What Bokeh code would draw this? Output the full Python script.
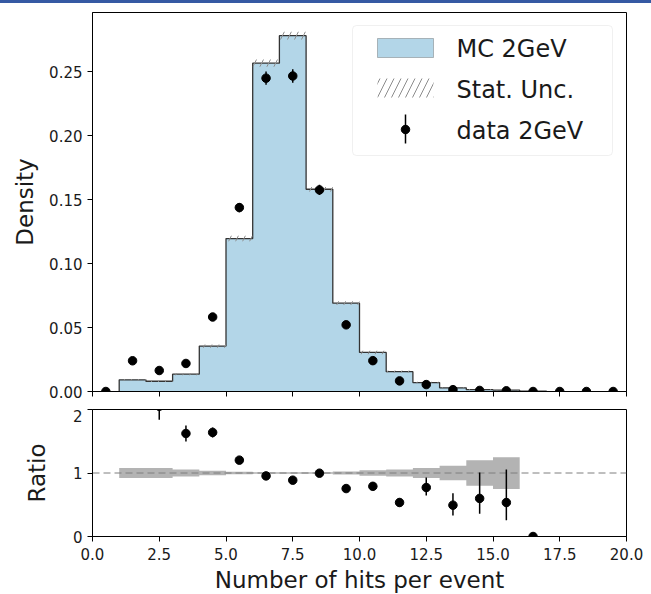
import numpy as np
from bokeh.plotting import figure
from bokeh.layouts import column
from bokeh.models import (Range1d, FixedTicker, PrintfTickFormatter,
                          CustomJSTickFormatter, BoxAnnotation, Label, Div)
from bokeh.embed import file_html
from bokeh.resources import INLINE

# ---- data -------------------------------------------------------------
# simulated (MC) histogram, unit-width bins with edges 1..17 (density)
mc_edges = list(range(1, 18))
mc_density = [0.0091, 0.0080, 0.0135, 0.0355, 0.1195, 0.2565, 0.2780, 0.1580,
              0.0690, 0.0305, 0.0155, 0.0070, 0.0029, 0.0014, 0.0010, 0.0003]
# relative statistical uncertainty of each MC bin
mc_rel_unc = [0.077, 0.077, 0.055, 0.037, 0.018, 0.011, 0.011, 0.011,
              0.022, 0.045, 0.055, 0.080, 0.115, 0.200, 0.250, 0.0]

# measured data, bin centres 0.5..19.5
data_centers = [0.5, 1.5, 2.5, 3.5, 4.5, 5.5, 6.5, 7.5, 8.5, 9.5,
                10.5, 11.5, 12.5, 13.5, 14.5, 15.5, 16.5, 17.5, 18.5, 19.5]
data_density = [0.0, 0.0240, 0.0164, 0.0219, 0.0582, 0.1437, 0.2448, 0.2465,
                0.1575, 0.0521, 0.0241, 0.0083, 0.0054, 0.00143, 0.00084,
                0.000535, 0.0, 0.0, 0.0, 0.0]
data_err_lo = [0.0, 0.0017, 0.0017, 0.0017, 0.0028, 0.0036, 0.0052, 0.0052,
               0.0040, 0.0026, 0.0017, 0.0010, 0.00088, 0.00047, 0.00034,
               0.00028, 0.0, 0.0, 0.0, 0.0]
data_err_hi = [0.0, 0.0017, 0.0014, 0.0017, 0.0028, 0.0036, 0.0052, 0.0052,
               0.0040, 0.0026, 0.0017, 0.0010, 0.0011, 0.00055, 0.00057,
               0.00052, 0.0, 0.0, 0.0, 0.0]

x_ticks = [0.0, 2.5, 5.0, 7.5, 10.0, 12.5, 15.0, 17.5, 20.0]
density_ticks = [0.0, 0.05, 0.10, 0.15, 0.20, 0.25]
ratio_ticks = [0, 1, 2]

legend_labels = ["MC 2GeV", "Stat. Unc.", "data 2GeV"]

# ---- derived arrays ---------------------------------------------------
mc = np.array(mc_density)
rel = np.array(mc_rel_unc)
edges = np.array(mc_edges, dtype=float)
left = edges[:-1]
right = edges[1:]

xc = np.array(data_centers)
yd = np.array(data_density)
elo = np.array(data_err_lo)
ehi = np.array(data_err_hi)

# data / MC ratio where the MC bin is filled
mc_at_data = np.zeros_like(xc)
for k, lo in enumerate(left):
    mc_at_data[np.isclose(xc, lo + 0.5)] = mc[k]
has_mc = mc_at_data > 0
r_x = xc[has_mc]
r_y = yd[has_mc] / mc_at_data[has_mc]
r_lo = elo[has_mc] / mc_at_data[has_mc]
r_hi = ehi[has_mc] / mc_at_data[has_mc]

# step outlines built from bin edges
step_x = np.repeat(edges, 2)
step_y = np.concatenate([[0.0], np.repeat(mc, 2), [0.0]])
band_up = np.repeat(1 + rel, 2)
band_dn = np.repeat(1 - rel, 2)
band_x = np.concatenate([step_x[1:-1], step_x[1:-1][::-1]])
band_y = np.concatenate([band_up, band_dn[::-1]])

# ---- styling ----------------------------------------------------------
FONT = "DejaVu Sans"
TXT = "#1a1a1a"
X_MAX = 20.0
Y_MAX = 0.2961
FW, FH1, FH2 = 534, 379, 127
MC_FILL = "#b3d6e8"
EDGE = "#333333"
HATCH = "#8c8c8c"


def style_axes(p):
    for ax in (p.xaxis[0], p.yaxis[0]):
        ax.major_tick_in = 0
        ax.major_tick_out = 5
        ax.minor_tick_line_color = None
        ax.major_tick_line_color = "black"
        ax.axis_line_color = "black"
        ax.major_label_text_font = FONT
        ax.major_label_text_font_size = "15px"
        ax.major_label_text_color = TXT
        ax.axis_label_text_font = FONT
        ax.axis_label_text_font_size = "23px"
        ax.axis_label_text_font_style = "normal"
        ax.axis_label_text_color = TXT
    p.grid.visible = False
    p.outline_line_color = "black"
    p.outline_line_alpha = 1.0
    p.background_fill_color = "white"
    p.border_fill_color = "white"


# ---- main panel -------------------------------------------------------
p1 = figure(frame_width=FW, frame_height=FH1, x_range=Range1d(0, X_MAX),
            y_range=Range1d(0, Y_MAX), output_backend="svg",
            toolbar_location=None, min_border_left=92, min_border_right=25,
            min_border_top=9, min_border_bottom=18)
style_axes(p1)
p1.xaxis.ticker = FixedTicker(ticks=x_ticks)
p1.xaxis.formatter = CustomJSTickFormatter(code="return ''")
p1.xaxis.major_label_standoff = 0
p1.yaxis.ticker = FixedTicker(ticks=density_ticks)
p1.yaxis.formatter = PrintfTickFormatter(format="%.2f")
p1.yaxis.axis_label = "Density"
p1.yaxis.axis_label_standoff = 8

# filled histogram with its step outline
p1.patch(step_x, step_y, fill_color=MC_FILL, line_color=None)
p1.line(step_x, step_y, line_color=EDGE, line_width=1.3)
# hatched statistical uncertainty
p1.quad(left=left, right=right, bottom=mc * (1 - rel), top=mc * (1 + rel),
        fill_alpha=0, line_color=None, hatch_pattern="/",
        hatch_color=HATCH, hatch_scale=14, hatch_weight=1)
# data points
p1.segment(x0=xc, y0=yd - elo, x1=xc, y1=yd + ehi, line_color="black",
           line_width=1.5)
p1.scatter(xc, yd, size=8.5, color="black")


# legend, placed by frame pixel offsets
def fx(px):
    return px / FW * X_MAX


def fy(py):
    return Y_MAX * (1 - py / FH1)


p1.add_layout(BoxAnnotation(left=fx(260), right=fx(520), top=fy(13),
                            bottom=fy(143), fill_color="white",
                            fill_alpha=0.8, line_color="#cccccc",
                            line_width=1, border_radius=4))
p1.add_layout(BoxAnnotation(left=fx(285), right=fx(341), top=fy(26),
                            bottom=fy(45), fill_color=MC_FILL, fill_alpha=1,
                            line_color=EDGE, line_width=1))
p1.add_layout(BoxAnnotation(left=fx(285), right=fx(341), top=fy(66),
                            bottom=fy(85), fill_alpha=0, line_color=None,
                            hatch_pattern="/", hatch_color=HATCH,
                            hatch_scale=14, hatch_weight=1))
p1.segment(x0=[fx(313)], y0=[fy(102)], x1=[fx(313)], y1=[fy(131)],
           line_color="black", line_width=1.5, level="overlay")
p1.scatter([fx(313)], [fy(117)], size=8.5, color="black", level="overlay")
for lab, mid in zip(legend_labels, [36.5, 77.5, 118.5]):
    p1.add_layout(Label(x=fx(364), y=fy(mid), text=lab, text_font=FONT,
                        text_font_size="24px", text_color=TXT,
                        text_baseline="middle"))

# ---- ratio panel ------------------------------------------------------
p2 = figure(frame_width=FW, frame_height=FH2, x_range=p1.x_range,
            y_range=Range1d(0, 2), output_backend="svg",
            toolbar_location=None, min_border_left=92, min_border_right=25,
            min_border_top=0, min_border_bottom=58)
style_axes(p2)
p2.xaxis.ticker = FixedTicker(ticks=x_ticks)
p2.xaxis.formatter = PrintfTickFormatter(format="%.1f")
p2.xaxis.axis_label = "Number of hits per event"
p2.xaxis.major_label_standoff = 6
p2.xaxis.axis_label_standoff = 4
p2.yaxis.ticker = FixedTicker(ticks=ratio_ticks)
p2.yaxis.axis_label = "Ratio"
p2.yaxis.axis_label_standoff = 20

p2.patch(band_x, band_y, fill_color="#b3b3b3", line_color=None)
p2.line([0, X_MAX], [1, 1], line_color="#7f7f7f", line_width=1,
        line_dash="7 4")
p2.segment(x0=r_x, y0=r_y - r_lo, x1=r_x, y1=r_y + r_hi, line_color="black",
           line_width=1.5)
p2.scatter(r_x, r_y, size=8.5, color="black")

top_bar = Div(width=651, height=3, margin=0,
              styles={"background-color": "#3559a3"})

layout = column(top_bar, p1, p2, spacing=0)
open("out.html", "w").write(file_html(layout, INLINE))
